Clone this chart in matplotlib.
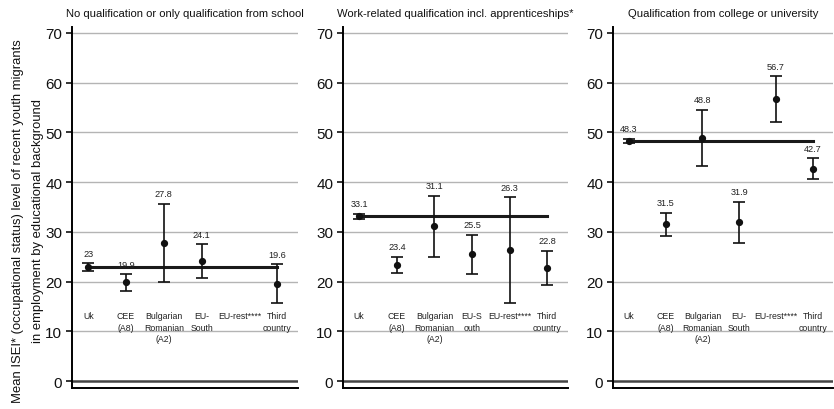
import numpy as np
import matplotlib
matplotlib.use("Agg")
import matplotlib.pyplot as plt

plt.rcParams['font.family'] = ['Liberation Sans', 'DejaVu Sans']

categories_a = ["Uk", "CEE\n(A8)", "Bulgarian\nRomanian\n(A2)", "EU-\nSouth", "EU-rest****", "Third\ncountry"]
categories_b = ["Uk", "CEE\n(A8)", "Bulgarian\nRomanian\n(A2)", "EU-S\nouth", "EU-rest****", "Third\ncountry"]

titles = ["No qualification or only qualification from school",
          "Work-related qualification incl. apprenticeships*",
          "Qualification from college or university"]

mean_noqual = [23.0, 19.9, 27.8, 24.1, np.nan, 19.6]
lo_noqual = [22.2, 18.1, 19.9, 20.7, np.nan, 15.7]
hi_noqual = [23.7, 21.5, 35.6, 27.5, np.nan, 23.5]
lbl_noqual = ["23", "19.9", "27.8", "24.1", "", "19.6"]

mean_work = [33.1, 23.4, 31.1, 25.5, 26.3, 22.8]
lo_work = [32.6, 21.8, 24.9, 21.6, 15.6, 19.4]
hi_work = [33.6, 25.0, 37.3, 29.4, 37.0, 26.2]
lbl_work = ["33.1", "23.4", "31.1", "25.5", "26.3", "22.8"]

mean_uni = [48.3, 31.5, 48.8, 31.9, 56.7, 42.7]
lo_uni = [47.9, 29.2, 43.2, 27.7, 52.1, 40.6]
hi_uni = [48.7, 33.8, 54.5, 36.1, 61.3, 44.8]
lbl_uni = ["48.3", "31.5", "48.8", "31.9", "56.7", "42.7"]

panels = [
    (titles[0], categories_a, mean_noqual, lo_noqual, hi_noqual, lbl_noqual),
    (titles[1], categories_b, mean_work, lo_work, hi_work, lbl_work),
    (titles[2], categories_a, mean_uni, lo_uni, hi_uni, lbl_uni),
]

W, H = 834, 410
fig = plt.figure(figsize=(W / 100, H / 100), dpi=100)

lefts = [72, 343, 613]
rights = [298, 568, 833]
top_px, bot_px = 28, 389

for i, (title, cats, m, lo, hi, lbl) in enumerate(panels):
    ax = fig.add_axes([lefts[i] / W, 1 - bot_px / H, (rights[i] - lefts[i]) / W, (bot_px - top_px) / H])
    x = np.arange(len(cats))
    m = np.array(m); lo = np.array(lo); hi = np.array(hi)
    ax.set_ylim(-1.4, 71.2)
    ax.set_xlim(-0.43, 5.55)
    ax.set_yticks(range(0, 71, 10))
    for v in range(10, 71, 10):
        ax.axhline(v, color='#b4b4b4', lw=1.0, zorder=0)
    ax.axhline(0, color='#444444', lw=1.8, zorder=1)
    ok = ~np.isnan(m)
    # mean reference line (UK)
    ax.plot([x[0], x[-1]], [m[0], m[0]], color='#1a1a1a', lw=2.2, zorder=2)
    ax.errorbar(x[ok], m[ok], yerr=[m[ok] - lo[ok], hi[ok] - m[ok]], fmt='o', color='#111111',
                ms=4.2, elinewidth=1.2, capsize=4.2, capthick=1.2, zorder=3)
    for xi, h, t in zip(x, hi, lbl):
        if t:
            ax.annotate(t, (xi, h), xytext=(0, 4), textcoords='offset points',
                        ha='center', va='bottom', fontsize=6.6, color='#222222')
    for xi, c in zip(x, cats):
        ax.text(xi, 14.0, c, ha='center', va='top', fontsize=6.3, linespacing=1.3, color='#222222')
    ax.set_xticks([])
    for s in ['top', 'right']:
        ax.spines[s].set_visible(False)
    ax.spines['left'].set_linewidth(1.4)
    ax.spines['bottom'].set_linewidth(1.4)
    ax.tick_params(axis='y', labelsize=11, length=4, width=1.2, pad=3, colors='#111111')
    ax.set_title(title, fontsize=8.1, pad=8, color='#111111')

fig.text(0.0335, 0.461, "Mean ISEI* (occupational status) level of recent youth migrants\nin employment by educational background",
         rotation=90, ha='center', va='center', fontsize=9.4, linespacing=1.95, color='#111111')

fig.savefig("out.png", dpi=100)
